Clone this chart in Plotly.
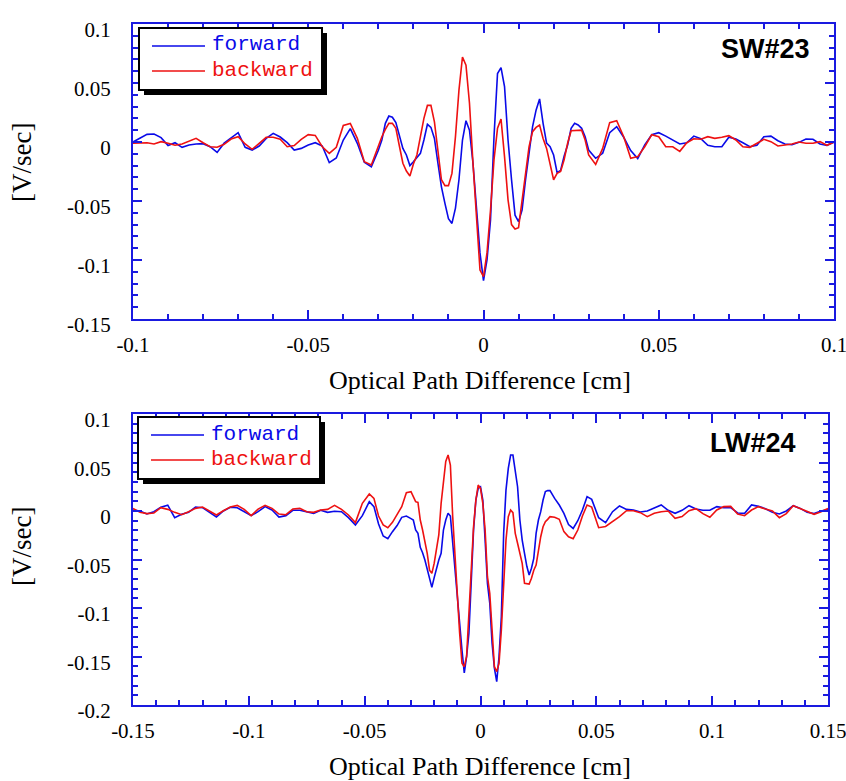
import numpy as np
import plotly.graph_objects as go

# ---------------- SW#23 interferogram (optical path difference in cm) ----------------
SW_X_LEFT = np.round(np.arange(-0.100, -0.031, 0.002), 3)
SW_X_MID = np.round(np.arange(-0.030, 0.0305, 0.001), 3)
SW_X_RIGHT = np.round(np.arange(0.032, 0.1005, 0.002), 3)

SW_FWD_LEFT = [0.000, 0.003, 0.0065, 0.0068, 0.0037, -0.003, -0.0006, -0.0045, -0.0025, -0.0017,
               -0.0014, -0.004, -0.0088, -0.001, 0.0034, 0.0079, -0.0045, -0.0068, -0.0034, 0.003,
               0.0073, 0.0042, -0.0006, -0.0068, -0.0054, -0.0025, -0.0006, -0.0034, -0.0175, -0.0135,
               0.0017, 0.0113, -0.0011, -0.0172, -0.021]
SW_FWD_MID = [-0.007, 0.0017, 0.0158, 0.022, 0.021, 0.0164, 0.0045, -0.0054, -0.011, -0.020,
              -0.0167, -0.013, -0.0096, 0.0017, 0.015, 0.0124, 0.003, -0.018, -0.038, -0.052,
              -0.065, -0.069, -0.056, -0.032, 0.0017, 0.018, 0.010, -0.018, -0.055, -0.094,
              -0.1175, -0.100, -0.066, 0.0045, 0.058, 0.063, 0.047, 0.0017, -0.032, -0.062,
              -0.0675, -0.0576, -0.032, -0.0096, 0.013, 0.027, 0.0365, 0.0158, -0.001, -0.004,
              -0.011, -0.026, -0.024, -0.012, -0.0025, 0.0116, 0.0158, 0.0144, 0.0116, 0.0045,
              -0.0068]
SW_FWD_RIGHT = [-0.0138, -0.0096, 0.0079, 0.013, 0.004, -0.0073, -0.014, -0.0025, 0.0062, 0.0079,
                0.005, 0.0017, -0.0017, -0.0006, 0.005, 0.0028, -0.0028, -0.004, -0.004, 0.004,
                0.0025, -0.0006, -0.004, -0.0028, 0.0045, 0.005, 0.0011, -0.0017, -0.0023, -0.0003,
                0.0025, 0.0023, -0.0017, -0.0028, 0.0]

SW_BWD_LEFT = [-0.0011, -0.0006, -0.0006, -0.0017, 0.0003, -0.0011, -0.0028, -0.0017, 0.0006, 0.0031,
               -0.0006, -0.004, -0.0045, -0.002, 0.0025, 0.0045, -0.0017, -0.0062, -0.0011, 0.004,
               0.004, 0.0023, -0.004, -0.003, 0.0023, 0.0062, 0.0056, -0.004, -0.0096, -0.0045,
               0.014, 0.0158, 0.0031, -0.0167, -0.0195]
SW_BWD_MID = [-0.003, 0.0045, 0.0107, 0.0158, 0.0158, 0.0116, -0.0034, -0.018, -0.0246, -0.0288,
              -0.0186, -0.011, 0.0045, 0.020, 0.031, 0.031, 0.017, -0.0068, -0.032, -0.037,
              -0.037, -0.0266, 0.0045, 0.044, 0.072, 0.065, 0.0328, -0.018, -0.066, -0.1085,
              -0.114, -0.094, -0.0576, -0.015, 0.0116, 0.0195, -0.0124, -0.049, -0.070, -0.0737,
              -0.0726, -0.049, -0.0266, -0.004, 0.0088, 0.0124, 0.0144, 0.003, -0.0054, -0.0195,
              -0.032, -0.0266, -0.025, -0.015, -0.0011, 0.0096, 0.0096, 0.010, 0.010, 0.0017,
              -0.011]
SW_BWD_RIGHT = [-0.019, -0.0054, 0.0164, 0.018, 0.0045, -0.0138, -0.0124, -0.004, 0.0062, 0.0045,
                -0.004, -0.004, -0.0079, -0.0006, 0.0028, 0.0023, 0.0045, 0.0031, 0.004, 0.0054,
                0.0017, -0.004, -0.0045, -0.0011, 0.0023, 0.0003, -0.0034, -0.0025, -0.0017, 0.0,
                -0.0011, -0.0011, 0.0003, -0.0028, 0.0]

# ---------------- LW#24 interferogram ----------------
LW_X_LEFT = np.round(np.arange(-0.150, -0.0505, 0.003), 3)
LW_X_INL = np.round(np.arange(-0.048, -0.0315, 0.002), 3)
LW_X_MID = np.round(np.arange(-0.030, 0.0305, 0.001), 3)
LW_X_INR = np.round(np.arange(0.032, 0.0485, 0.002), 3)
LW_X_RIGHT = np.round(np.arange(0.051, 0.1505, 0.003), 3)

LW_FWD_LEFT = [0.001, 0.0, -0.0031, -0.0007, 0.0038, 0.006, -0.0069, -0.0034, -0.0014, 0.0041,
               0.0034, -0.0017, -0.0062, 0.0, 0.0038, 0.0034, -0.0007, -0.0048, -0.0007, 0.0045,
               0.001, -0.0062, -0.0048, 0.0007, 0.0007, -0.0007, -0.0024, 0.0007, -0.0014, -0.0003,
               -0.0007, -0.0069, -0.0144, -0.0048]
LW_FWD_INL = [0.0096, 0.0045, -0.0134, -0.0258, -0.0285, -0.0213, -0.015, -0.0065, -0.0052]
LW_FWD_MID = [-0.0079, -0.0093, -0.0196, -0.023, -0.0375, -0.043, -0.0505, -0.060, -0.0694, -0.0787,
              -0.0687, -0.058, -0.0505, -0.0436, -0.0196, -0.0093, -0.0024, -0.0052, -0.0333, -0.0643,
              -0.095, -0.1227, -0.1433, -0.167, -0.150, -0.126, -0.0711, -0.0196, 0.0113, 0.0234,
              0.025, 0.0113, -0.030, -0.0746, -0.095, -0.1364, -0.162, -0.176, -0.150, -0.109,
              -0.023, 0.0216, 0.044, 0.0577, 0.0577, 0.0423, 0.025, -0.0093, -0.030, -0.0436,
              -0.057, -0.066, -0.059, -0.0488, -0.023, -0.0093, -0.0007, 0.0113, 0.020, 0.021,
              0.021]
LW_FWD_INR = [0.013, 0.0062, -0.0024, -0.014, -0.018, -0.010, 0.001, 0.0148, 0.012]
LW_FWD_RIGHT = [-0.0069, -0.012, -0.0007, 0.0052, 0.0017, 0.001, -0.001, 0.0, 0.0027, 0.0062,
                0.0007, -0.0024, 0.0007, 0.0055, 0.002, 0.0007, 0.0007, 0.0045, 0.0034, 0.0034,
                -0.002, -0.0024, 0.0062, 0.0048, 0.0024, -0.0014, -0.0031, 0.0, 0.0055, 0.0027,
                -0.0014, -0.0027, 0.0, 0.0014]

LW_BWD_LEFT = [0.0027, -0.0014, -0.0027, -0.002, 0.0034, 0.0017, -0.0014, -0.0038, -0.0007, 0.0027,
               0.0041, 0.0003, -0.0041, 0.0003, 0.0041, 0.0058, 0.0017, -0.0048, 0.002, 0.0058,
               0.0027, -0.0031, -0.0038, 0.002, 0.0027, -0.0007, -0.0014, 0.001, 0.0017, 0.0058,
               0.0017, -0.0041, -0.012, 0.0079]
LW_BWD_INL = [0.0175, 0.013, -0.0052, -0.0144, -0.0172, -0.0117, -0.0034, 0.0045, 0.0189]
LW_BWD_MID = [0.020, 0.0148, 0.0096, 0.0089, -0.0093, -0.0196, -0.030, -0.0436, -0.061, -0.0643,
              -0.054, -0.040, -0.0247, 0.0079, 0.032, 0.051, 0.0577, 0.0474, -0.0058, -0.0505,
              -0.0918, -0.126, -0.157, -0.1605, -0.150, -0.109, -0.0643, -0.0162, 0.0113, 0.0268,
              0.0234, 0.0079, -0.0196, -0.0677, -0.085, -0.1227, -0.1605, -0.1656, -0.157, -0.1227,
              -0.0677, -0.030, -0.0058, 0.001, -0.0017, -0.023, -0.0333, -0.0454, -0.054, -0.0746,
              -0.075, -0.0753, -0.0694, -0.061, -0.0557, -0.040, -0.0265, -0.0162, -0.011, -0.0086,
              -0.0058]
LW_BWD_INR = [-0.0065, -0.0086, -0.0213, -0.0265, -0.0285, -0.0196, -0.0052, 0.0062, 0.004]
LW_BWD_RIGHT = [-0.0172, -0.016, -0.011, -0.0058, 0.0003, 0.0003, -0.0017, -0.0058, -0.0024, -0.0007,
                0.0, -0.0076, -0.0058, 0.0003, 0.0024, -0.0027, -0.0065, 0.001, 0.0045, 0.0048,
                -0.0031, -0.0048, 0.001, 0.0045, 0.002, 0.0, -0.0069, -0.0027, 0.0055, 0.0024,
                0.0, -0.0034, -0.0007, 0.0027]

SW_TICKS_X = [-0.1, -0.05, 0, 0.05, 0.1]
SW_TICKTEXT_X = ["-0.1", "-0.05", "0", "0.05", "0.1"]
SW_TICKS_Y = [-0.15, -0.1, -0.05, 0, 0.05, 0.1]
SW_TICKTEXT_Y = ["-0.15", "-0.1", "-0.05", "0", "0.05", "0.1"]
LW_TICKS_X = [-0.15, -0.1, -0.05, 0, 0.05, 0.1, 0.15]
LW_TICKTEXT_X = ["-0.15", "-0.1", "-0.05", "0", "0.05", "0.1", "0.15"]
LW_TICKS_Y = [-0.2, -0.15, -0.1, -0.05, 0, 0.05, 0.1]
LW_TICKTEXT_Y = ["-0.2", "-0.15", "-0.1", "-0.05", "0", "0.05", "0.1"]

sw_x = np.concatenate([SW_X_LEFT, SW_X_MID, SW_X_RIGHT])
sw_fwd = np.concatenate([SW_FWD_LEFT, SW_FWD_MID, SW_FWD_RIGHT])
sw_bwd = np.concatenate([SW_BWD_LEFT, SW_BWD_MID, SW_BWD_RIGHT])
lw_x = np.concatenate([LW_X_LEFT, LW_X_INL, LW_X_MID, LW_X_INR, LW_X_RIGHT])
lw_fwd = np.concatenate([LW_FWD_LEFT, LW_FWD_INL, LW_FWD_MID, LW_FWD_INR, LW_FWD_RIGHT])
lw_bwd = np.concatenate([LW_BWD_LEFT, LW_BWD_INL, LW_BWD_MID, LW_BWD_INR, LW_BWD_RIGHT])

W, H = 846, 781
BLUE = "#0a0ae8"
RED = "#ee1111"
FRAME = "#1a1ae0"
SERIF = "Liberation Serif"
MONO = "Liberation Mono"
SANS = "Liberation Sans"


def px(x):
    return x / W


def py(y):
    return 1 - y / H


fig = go.Figure()
fig.add_trace(go.Scatter(x=sw_x, y=sw_fwd, mode="lines", line=dict(color=BLUE, width=1.6),
                         xaxis="x", yaxis="y", showlegend=False))
fig.add_trace(go.Scatter(x=sw_x, y=sw_bwd, mode="lines", line=dict(color=RED, width=1.6),
                         xaxis="x", yaxis="y", showlegend=False))
fig.add_trace(go.Scatter(x=lw_x, y=lw_fwd, mode="lines", line=dict(color=BLUE, width=1.6),
                         xaxis="x2", yaxis="y2", showlegend=False))
fig.add_trace(go.Scatter(x=lw_x, y=lw_bwd, mode="lines", line=dict(color=RED, width=1.6),
                         xaxis="x2", yaxis="y2", showlegend=False))


def axis_style(**kw):
    base = dict(showline=True, mirror="allticks", linecolor=FRAME, linewidth=2,
                ticks="inside", ticklen=9, tickwidth=2, tickcolor=FRAME,
                showgrid=False, zeroline=False, automargin=False,
                ticklabeloverflow="allow",
                tickfont=dict(family=SERIF, size=21, color="black"),
                minor=dict(ticks="inside", ticklen=5, tickwidth=1.5, tickcolor=FRAME,
                           dtick=0.01, showgrid=False),
                tickmode="array")
    base.update(kw)
    return base


fig.update_layout(
    width=W, height=H, autosize=False,
    margin=dict(l=0, r=0, t=0, b=0, pad=0),
    paper_bgcolor="white", plot_bgcolor="white",
    xaxis=axis_style(domain=[px(133), px(834)], range=[-0.1, 0.1], anchor="y",
                     tickvals=SW_TICKS_X, ticktext=SW_TICKTEXT_X, ticklabelstandoff=6),
    yaxis=axis_style(domain=[py(319), py(24)], range=[-0.15, 0.1], anchor="x",
                     tickvals=SW_TICKS_Y, ticktext=SW_TICKTEXT_Y, ticklabelstandoff=16,
                     ticklabelshift=6),
    xaxis2=axis_style(domain=[px(133), px(828)], range=[-0.15, 0.15], anchor="y2",
                      tickvals=LW_TICKS_X, ticktext=LW_TICKTEXT_X, ticklabelstandoff=6),
    yaxis2=axis_style(domain=[py(705), py(414)], range=[-0.2, 0.1], anchor="x2",
                      tickvals=LW_TICKS_Y, ticktext=LW_TICKTEXT_Y, ticklabelstandoff=16,
                      ticklabelshift=6),
)

annotations = []
shapes = []

# axis titles
for cx, cy in [(480, 380), (480, 766)]:
    annotations.append(dict(x=px(cx), y=py(cy), xref="paper", yref="paper",
                            text="Optical Path Difference [cm]", showarrow=False,
                            font=dict(family=SERIF, size=26, color="black"),
                            xanchor="center", yanchor="middle"))
for cx, cy in [(22, 163), (22, 547)]:
    annotations.append(dict(x=px(cx), y=py(cy), xref="paper", yref="paper",
                            text="[V/sec]", showarrow=False, textangle=-90,
                            font=dict(family=SERIF, size=27, color="black"),
                            xanchor="center", yanchor="middle"))

# panel labels
annotations.append(dict(x=px(812), y=py(49), xref="paper", yref="paper", text="<b>SW#23</b>",
                        showarrow=False, font=dict(family=SANS, size=27, color="black"),
                        xanchor="right", yanchor="middle"))
annotations.append(dict(x=px(798), y=py(443), xref="paper", yref="paper", text="<b>LW#24</b>",
                        showarrow=False, font=dict(family=SANS, size=27, color="black"),
                        xanchor="right", yanchor="middle"))

# boxed legends with drop shadow
for (x0, y0, x1, y1, yf, yb) in [(139, 28, 322, 90, 46, 71), (138, 417, 320, 479, 435, 460)]:
    shapes.append(dict(type="rect", xref="paper", yref="paper",
                       x0=px(x0 + 5), x1=px(x1 + 5), y0=py(y0 + 5), y1=py(y1 + 5),
                       fillcolor="black", line=dict(width=0), layer="above"))
    shapes.append(dict(type="rect", xref="paper", yref="paper",
                       x0=px(x0), x1=px(x1), y0=py(y0), y1=py(y1),
                       fillcolor="white", line=dict(color="black", width=2), layer="above"))
    for yy, col, name in [(yf, BLUE, "forward"), (yb, RED, "backward")]:
        shapes.append(dict(type="line", xref="paper", yref="paper",
                           x0=px(x0 + 13), x1=px(x0 + 66), y0=py(yy), y1=py(yy),
                           line=dict(color=col, width=1.6), layer="above"))
        annotations.append(dict(x=px(x0 + 71), y=py(yy - 1), xref="paper", yref="paper",
                                text=name, showarrow=False,
                                font=dict(family=MONO, size=21, color=col),
                                xanchor="left", yanchor="middle"))

fig.update_layout(annotations=annotations, shapes=shapes)
fig.write_html("out.html")
